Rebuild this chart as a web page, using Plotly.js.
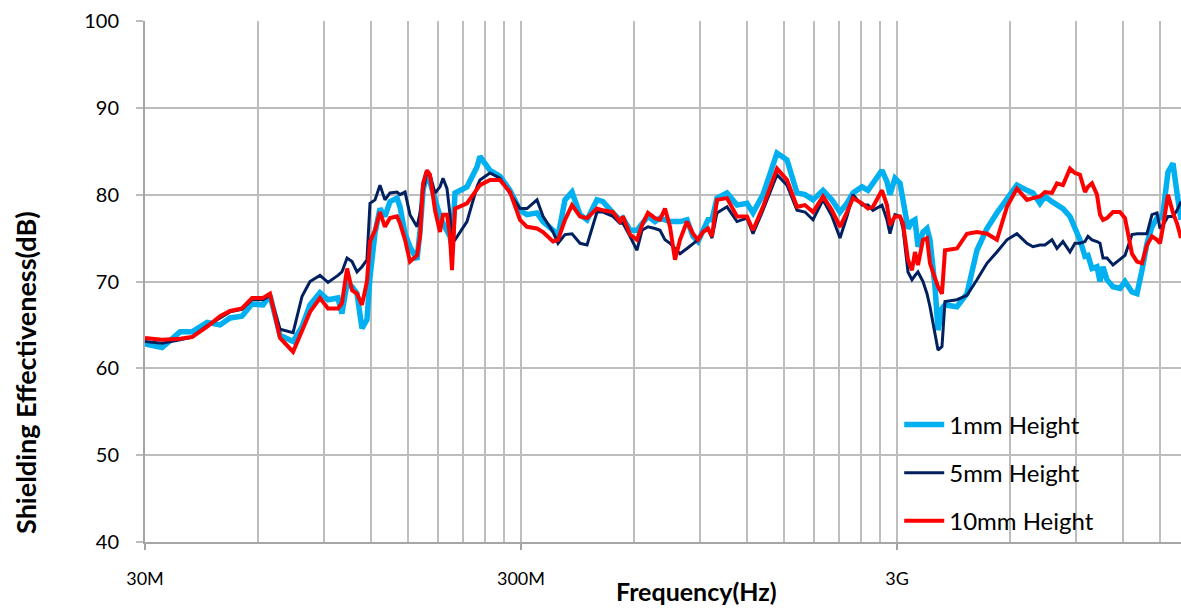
<!DOCTYPE html>
<html>
<head>
<meta charset="utf-8">
<script src="https://cdn.plot.ly/plotly-3.0.1.min.js"></script>
<style>html,body{margin:0;padding:0;background:#fff;}#chart{width:1181px;height:609px;}</style>
</head>
<body>
<div id="chart"></div>
<script>
// Frequency (MHz) of each sample
const freqMHz = [30,33.3,37.2,40.0,43.9,47.5,50.5,54.3,57.8,61.8,64.5,68.6,74.3,78.5,82.4,87.6,92.0,97.8,100.2,103.4,106.6,109.9,113.3,116.8,119.0,122.7,126.5,130.4,134.5,140.4,143.0,147.5,152.0,158.7,161.7,164.7,168.7,171.8,177.2,182.7,186.1,190.7,194.2,196.6,200.3,215.5,229.1,233.3,248.1,263.7,280.5,298.2,311.2,330.9,343.3,365.0,376.3,392.8,410.0,430.7,449.5,477.8,495.7,526.9,550.0,560.2,584.8,610.4,629.4,652.9,681.5,702.8,724.6,747.2,770.4,794.4,829.1,860.1,886.9,914.4,942.9,966.2,996.2,1059.2,1126.2,1197.2,1242.1,1320.3,1438.8,1529.7,1626.2,1708.0,1793.8,1906.9,2014.9,2116.2,2208.9,2291.0,2420.7,2511.2,2589.3,2736.3,2821.3,2873.6,2963.5,3056.0,3112.3,3209.2,3288.6,3349.6,3411.6,3517.9,3605.0,3672.0,3786.3,3856.6,3952.0,4025.2,4331.7,4605.0,4895.4,5204.3,5532.8,5881.9,6253.1,6647.8,6896.6,7200.8,7424.8,7750.4,7991.4,8290.4,8653.7,8922.8,9200.2,9486.8,9662.7,9902.2,10210,10400,10593,10855,11261,11755,12121,12651,13045,13451,13869,14300,14745,15018,15297,15772,16262,16665,17080];

// Shielding effectiveness (dB)
const se1mm = [62.8,62.4,64.2,64.2,65.3,65.0,65.8,66.0,67.4,67.3,68.4,63.8,63.1,64.8,67.3,68.7,67.9,68.1,66.3,69.8,69.4,68.6,64.6,65.6,70.5,75.6,78.4,77.5,79.2,79.6,78.6,75.5,74.0,72.5,75.9,80.5,82.6,81.3,79.4,77.5,76.7,75.9,75.2,74.0,80.2,80.9,83.2,84.4,82.8,82.1,80.5,78.2,77.7,77.9,76.9,75.9,75.2,79.4,80.3,77.7,77.1,79.4,79.2,77.9,77.1,77.3,75.9,75.9,76.7,77.5,76.9,77.3,77.1,76.9,76.9,76.9,77.1,75.2,74.6,75.9,77.1,77.1,79.6,80.2,78.8,79.0,77.9,80.0,84.8,84.0,80.2,80.0,79.4,80.5,79.4,78.0,79.0,80.2,80.9,80.5,81.3,82.8,81.5,80.0,81.9,81.3,79.4,76.1,76.9,77.1,74.0,75.7,76.1,74.8,69.4,64.4,66.9,67.3,67.1,68.6,73.6,76.1,77.9,79.6,81.1,80.5,80.2,79.0,79.8,79.2,78.8,78.4,77.5,76.3,74.8,72.9,73.0,71.5,71.7,70.0,71.7,70.2,69.4,69.2,70.0,68.8,68.6,71.3,74.4,76.3,77.3,77.3,77.9,82.6,83.6,80.2,77.1];
const se5mm = [63.1,62.9,63.3,63.6,64.9,65.8,66.5,66.8,67.9,67.9,68.4,64.5,64.1,68.3,70.0,70.7,69.9,70.7,71.1,72.7,72.3,71.1,71.7,72.5,79.0,79.4,81.1,79.4,80.2,80.3,80.0,80.3,77.7,76.3,77.9,80.5,82.6,82.3,80.2,80.9,81.9,80.7,77.7,74.4,74.8,76.9,80.9,81.7,82.5,81.9,80.2,78.4,78.4,79.4,77.5,75.7,74.4,75.4,75.5,74.4,74.2,78.0,78.0,77.5,76.7,76.7,75.2,73.6,75.9,76.3,76.1,75.9,74.8,74.4,73.8,73.2,73.8,74.4,74.8,75.7,76.1,75.0,77.9,78.6,76.9,77.3,75.5,78.2,82.3,81.1,78.2,78.0,77.1,79.4,77.5,75.0,77.5,80.0,78.8,78.8,78.2,78.8,77.1,75.5,77.7,77.5,76.1,71.1,70.2,70.7,71.1,70.0,68.6,67.1,64.0,62.1,62.5,67.7,67.9,68.4,70.2,72.1,73.4,74.8,75.5,74.4,74.0,74.2,74.2,74.8,73.8,74.6,73.4,74.4,74.4,74.6,75.2,74.8,74.6,74.4,72.7,72.7,71.9,72.5,73.0,75.4,75.5,75.5,75.5,77.7,77.9,76.1,76.5,77.5,77.5,78.2,79.2];
const se10mm = [63.5,63.3,63.4,63.6,64.8,66.0,66.6,66.9,68.1,68.1,68.6,63.5,61.9,64.4,66.5,68.1,66.9,66.9,67.5,71.5,69.0,68.6,67.3,70.0,74.6,75.9,78.0,76.3,77.3,77.5,76.7,74.8,72.3,73.0,75.2,81.3,82.8,82.3,78.2,75.7,77.7,77.7,75.2,71.3,78.4,79.0,80.7,81.1,81.7,81.7,80.3,77.1,76.3,76.1,75.7,74.6,74.8,77.1,78.8,77.5,77.3,78.4,78.2,78.0,76.9,77.5,75.4,74.8,76.5,77.9,77.3,77.1,78.4,76.3,72.5,74.8,76.9,75.5,74.8,75.7,76.1,75.2,79.4,79.6,77.5,77.5,75.9,78.6,83.0,81.7,78.6,78.8,78.0,79.8,78.2,76.3,78.0,79.6,79.0,78.4,78.6,80.5,78.8,76.5,77.5,77.5,76.7,72.5,71.3,73.4,71.9,74.8,75.0,72.1,70.4,69.4,68.6,73.6,73.8,75.5,75.7,75.5,74.8,78.6,80.7,79.4,79.6,79.8,80.3,80.2,81.3,81.1,83.0,82.5,82.3,80.3,80.9,81.3,80.0,77.7,77.1,77.3,78.0,78.0,77.3,73.2,72.3,72.1,74.2,75.2,74.8,74.4,76.3,80.0,77.9,76.7,75.0];

const seriesNames = ['1mm Height', '5mm Height', '10mm Height'];
const tickValsMHz = [30, 300, 3000];
const tickLabels = ['30M', '300M', '3G'];

// minor grid at every multiple of 30M within each decade
const minorVals = [];
[30, 300, 3000].forEach(function (base) {
  for (let k = 2; k <= 9; k++) { if (base * k <= 17080) minorVals.push(base * k); }
});

const fontFam = 'Lato, "Open Sans", sans-serif';
const gridCol = '#BDBDBD';

const traces = [
  {x: freqMHz, y: se1mm, name: seriesNames[0], mode: 'lines', legendgroup: 'a',
   line: {color: '#00B0F0', width: 5.5}},
  {x: freqMHz, y: se5mm, name: seriesNames[1], mode: 'lines', legendgroup: 'b',
   line: {color: '#002060', width: 3}},
  {x: freqMHz, y: se10mm, name: seriesNames[2], mode: 'lines', legendgroup: 'c',
   line: {color: '#FF0000', width: 4}}
];

const layout = {
  width: 1181, height: 609,
  margin: {l: 145, r: 0, t: 21, b: 67, pad: 0},
  paper_bgcolor: '#ffffff', plot_bgcolor: '#ffffff',
  font: {family: fontFam, color: '#000000'},
  showlegend: true,
  legend: {
    x: 0.728, y: 0.268, xanchor: 'left', yanchor: 'top',
    bgcolor: 'rgba(255,255,255,0)', borderwidth: 0,
    font: {family: fontFam, size: 24, color: '#000'},
    traceorder: 'grouped', tracegroupgap: 14, itemwidth: 40
  },
  xaxis: {
    type: 'log',
    range: [Math.log10(30), Math.log10(17080)],
    tickmode: 'array', tickvals: tickValsMHz, ticktext: tickLabels,
    ticks: 'outside', ticklen: 6, tickwidth: 1.5, tickcolor: '#A6A6A6',
    ticklabelstandoff: 13,
    tickfont: {family: fontFam, size: 18, color: '#000'},
    showline: true, linecolor: '#A6A6A6', linewidth: 2,
    showgrid: true, gridcolor: gridCol, gridwidth: 2,
    zeroline: false,
    minor: {tickmode: 'array', tickvals: minorVals, showgrid: true, gridcolor: gridCol, gridwidth: 2, ticks: ''}
  },
  yaxis: {
    range: [40, 100], tick0: 40, dtick: 10,
    ticks: 'outside', ticklen: 7, tickwidth: 2, tickcolor: '#BDBDBD',
    ticklabelstandoff: 13,
    tickfont: {family: fontFam, size: 20, color: '#000'},
    showline: true, linecolor: '#A6A6A6', linewidth: 2,
    showgrid: true, gridcolor: gridCol, gridwidth: 2,
    zeroline: false
  },
  annotations: [
    {text: '<b>Shielding Effectiveness(dB)</b>', xref: 'paper', yref: 'paper',
     x: -0.116, y: 0.326, xanchor: 'center', yanchor: 'middle', textangle: -90,
     showarrow: false, font: {family: fontFam, size: 27, color: '#000'}},
    {text: '<b>Frequency(Hz)</b>', xref: 'paper', yref: 'paper',
     x: 0.532, y: -0.094, xanchor: 'center', yanchor: 'middle',
     showarrow: false, font: {family: fontFam, size: 25, color: '#000'}}
  ]
};

Plotly.newPlot('chart', traces, layout, {displayModeBar: false, staticPlot: true});
</script>
</body>
</html>
